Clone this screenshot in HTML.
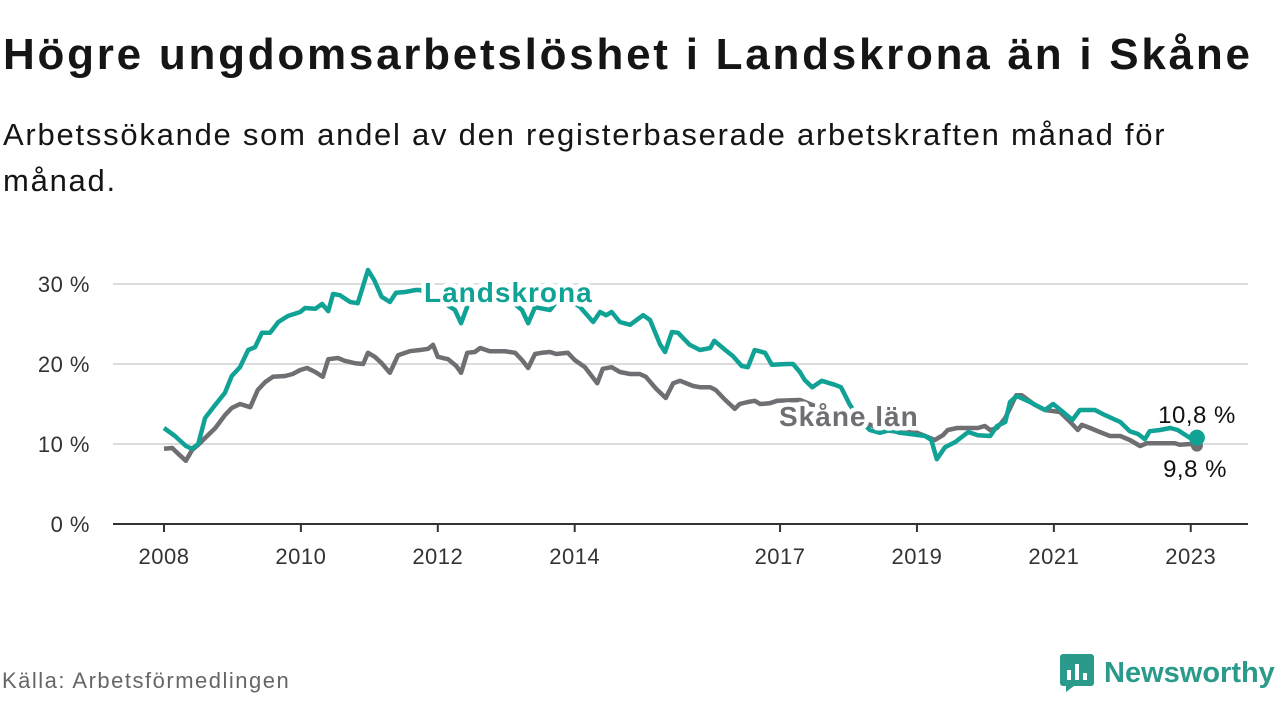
<!DOCTYPE html>
<html><head><meta charset="utf-8"><style>
body{margin:0;width:1280px;height:720px;background:#fff;font-family:"Liberation Sans",sans-serif;overflow:hidden;position:relative;color:#111}
#title{position:absolute;left:3px;top:30px;font-size:44px;font-weight:bold;letter-spacing:2.75px;margin:0;color:#151515;white-space:nowrap}
#sub{position:absolute;left:3px;top:112px;font-size:31px;letter-spacing:1.75px;line-height:46px;width:1200px;color:#151515}
#src{position:absolute;left:2px;top:668px;font-size:22px;letter-spacing:1.5px;color:#666}
#logo{position:absolute;left:1060px;top:654px;display:flex;align-items:center}
#logo span{font-size:29px;font-weight:bold;color:#2a9a8a;margin-left:10px}
svg{position:absolute;left:0;top:0}
</style></head><body>
<h1 id="title">Högre ungdomsarbetslöshet i Landskrona än i Skåne</h1>
<div id="sub">Arbetssökande som andel av den registerbaserade arbetskraften månad för månad.</div>
<div id="src">Källa: Arbetsförmedlingen</div>
<div id="logo">
<svg width="34" height="38" viewBox="0 0 34 38" style="position:static"><rect x="0" y="0" width="34" height="32" rx="3" fill="#2a9a8a"/><polygon points="6,32 14,32 6,38" fill="#2a9a8a"/><rect x="7" y="16" width="4" height="10" fill="#fff"/><rect x="15" y="10" width="4" height="16" fill="#fff"/><rect x="23" y="19" width="4" height="7" fill="#fff"/></svg>
<span>Newsworthy</span></div>
<svg id="chart" width="1280" height="720"></svg>
<script>
const yTicks=[0,10,20,30];
const xTickYears=[2008,2010,2012,2014,2017,2019,2021,2023];
const landDates=[2008.0,2008.16,2008.32,2008.41,2008.5,2008.6,2008.75,2008.89,2008.99,2009.11,2009.23,2009.33,2009.43,2009.55,2009.67,2009.81,2009.99,2010.06,2010.21,2010.31,2010.4,2010.47,2010.57,2010.72,2010.83,2010.89,2010.98,2011.07,2011.18,2011.3,2011.39,2011.52,2011.68,2011.74,2012.03,2012.25,2012.34,2012.44,2012.76,2013.05,2013.23,2013.32,2013.42,2013.64,2013.73,2013.93,2014.08,2014.27,2014.37,2014.46,2014.54,2014.66,2014.81,2015.0,2015.1,2015.25,2015.32,2015.42,2015.51,2015.68,2015.83,2015.98,2016.04,2016.2,2016.31,2016.44,2016.53,2016.63,2016.78,2016.88,2017.1,2017.19,2017.29,2017.36,2017.47,2017.61,2017.8,2017.89,2018.02,2018.17,2018.31,2018.46,2018.61,2018.75,2018.9,2019.12,2019.21,2019.29,2019.41,2019.56,2019.75,2019.89,2020.07,2020.17,2020.29,2020.36,2020.46,2020.65,2020.87,2020.99,2021.12,2021.27,2021.38,2021.6,2021.75,2021.97,2022.11,2022.23,2022.33,2022.4,2022.55,2022.7,2022.81,2022.99,2023.09];
const landValues=[12.0,11.0,9.75,9.4,10.0,13.25,14.9,16.4,18.5,19.6,21.75,22.1,23.9,23.9,25.25,26.0,26.5,27.0,26.9,27.5,26.6,28.75,28.6,27.75,27.6,29.25,31.75,30.5,28.4,27.75,28.9,29.0,29.25,29.25,28.0,26.75,25.1,27.4,28.0,28.0,26.75,25.1,27.1,26.75,27.75,28.0,27.1,25.25,26.5,26.1,26.5,25.25,24.9,26.1,25.5,22.4,21.5,24.0,23.9,22.4,21.75,22.0,22.9,21.75,21.0,19.75,19.6,21.75,21.4,19.9,20.0,20.0,19.0,18.0,17.1,17.9,17.4,17.1,14.9,13.0,11.75,11.4,11.75,11.4,11.25,11.0,10.5,8.1,9.6,10.25,11.5,11.1,11.0,12.25,12.75,15.25,16.0,15.25,14.25,15.0,14.1,13.0,14.25,14.25,13.6,12.75,11.6,11.25,10.6,11.6,11.75,12.0,11.75,10.75,10.8];
const skaneDates=[2008.0,2008.12,2008.23,2008.32,2008.41,2008.5,2008.6,2008.75,2008.89,2008.99,2009.11,2009.26,2009.37,2009.48,2009.59,2009.77,2009.88,2009.99,2010.09,2010.21,2010.32,2010.4,2010.54,2010.64,2010.79,2010.91,2010.98,2011.08,2011.18,2011.3,2011.42,2011.59,2011.74,2011.86,2011.93,2012.0,2012.15,2012.27,2012.34,2012.43,2012.54,2012.62,2012.76,2012.98,2013.13,2013.23,2013.32,2013.42,2013.52,2013.64,2013.73,2013.9,2014.0,2014.15,2014.33,2014.41,2014.54,2014.66,2014.81,2014.95,2015.04,2015.19,2015.33,2015.44,2015.54,2015.73,2015.83,2015.98,2016.06,2016.2,2016.34,2016.41,2016.53,2016.63,2016.71,2016.85,2016.96,2017.29,2017.58,2017.95,2018.31,2018.53,2018.75,2018.97,2019.12,2019.26,2019.38,2019.45,2019.59,2019.7,2019.89,2019.99,2020.07,2020.17,2020.29,2020.45,2020.53,2020.72,2020.87,2021.09,2021.24,2021.35,2021.41,2021.53,2021.67,2021.82,2021.97,2022.11,2022.26,2022.36,2022.55,2022.77,2022.84,2022.99,2023.09];
const skaneValues=[9.4,9.5,8.6,7.9,9.25,9.9,10.75,12.0,13.6,14.5,15.0,14.6,16.75,17.75,18.4,18.5,18.75,19.25,19.5,19.0,18.4,20.6,20.75,20.4,20.1,20.0,21.4,20.9,20.1,18.9,21.1,21.6,21.75,21.9,22.4,20.9,20.6,19.75,18.9,21.4,21.5,22.0,21.6,21.6,21.4,20.5,19.5,21.25,21.4,21.5,21.25,21.4,20.5,19.6,17.6,19.4,19.6,19.0,18.75,18.75,18.4,16.9,15.75,17.6,17.9,17.25,17.1,17.1,16.75,15.5,14.4,15.0,15.25,15.4,15.0,15.1,15.4,15.5,14.5,13.5,12.4,11.75,11.5,11.5,11.0,10.5,11.1,11.75,12.0,12.0,12.0,12.25,11.75,12.0,13.25,16.1,16.1,14.9,14.25,14.0,12.75,11.75,12.4,12.0,11.5,11.0,11.0,10.5,9.75,10.1,10.1,10.1,9.9,10.0,9.8];
const NS='http://www.w3.org/2000/svg';
const svg=document.getElementById('chart');
const X=y=>164+(y-2008)*68.45;
const Y=v=>524-v*8;
function mk(tag,attrs,parent){const e=document.createElementNS(NS,tag);for(const k in attrs)e.setAttribute(k,attrs[k]);(parent||svg).appendChild(e);return e;}
yTicks.forEach(t=>{
  if(t>0){const g=mk('line',{x1:113,x2:1248,y1:Y(t),y2:Y(t),stroke:'#dcdcdc','stroke-width':2});
  
  }
  const l=mk('text',{x:90,y:Y(t)+8,'text-anchor':'end','font-size':22,fill:'#333','font-family':'Liberation Sans, sans-serif','letter-spacing':0.5});
  l.textContent=t+' %';
  
  
});
const ax=mk('line',{x1:113,x2:1248,y1:524,y2:524,stroke:'#333','stroke-width':2});


xTickYears.forEach(yr=>{
  const tk=mk('line',{x1:X(yr),x2:X(yr),y1:524,y2:532,stroke:'#333','stroke-width':2});
  
  
  const l=mk('text',{x:X(yr),y:564,'text-anchor':'middle','font-size':22,fill:'#333','font-family':'Liberation Sans, sans-serif','letter-spacing':0.5});
  l.textContent=yr;
  
  
});
function line(d,v,col,name){
  const p=mk('polyline',{points:d.map((t,i)=>X(t)+','+Y(v[i])).join(' '),fill:'none',stroke:col,'stroke-width':4.5,'stroke-linejoin':'round'});
  
  
}
line(skaneDates,skaneValues,'#6f6e73','skane-line');
line(landDates,landValues,'#10a295','landskrona-line');
const ld=landDates.length-1,sd=skaneDates.length-1;
const sdot=mk('circle',{cx:X(skaneDates[sd]),cy:Y(skaneValues[sd]),r:6,fill:'#6f6e73'});


const ldot=mk('circle',{cx:X(landDates[ld]),cy:Y(landValues[ld]),r:8,fill:'#10a295'});


function label(txt,x,y,col,bold,size,anchor,name){
  const t=mk('text',{x:x,y:y,'text-anchor':anchor,'font-size':size,'font-weight':bold?'bold':'normal',fill:col,stroke:'#fff','stroke-width':bold?9:5,'paint-order':'stroke','stroke-linejoin':'round','font-family':'Liberation Sans, sans-serif','letter-spacing':bold?1:0.5});
  t.textContent=txt;
  
  
}
label('Landskrona',424,302,'#10a295',true,28,'start','landskrona-series-label');
label('Skåne län',779,426,'#6f6e73',true,28,'start','skane-series-label');
label(String(landValues[ld]).replace('.',',')+' %',1197,423,'#111',false,24,'middle','landskrona-end-value');
label(String(skaneValues[sd]).replace('.',',')+' %',1195,477,'#111',false,24,'middle','skane-end-value');
</script>
</body></html>
